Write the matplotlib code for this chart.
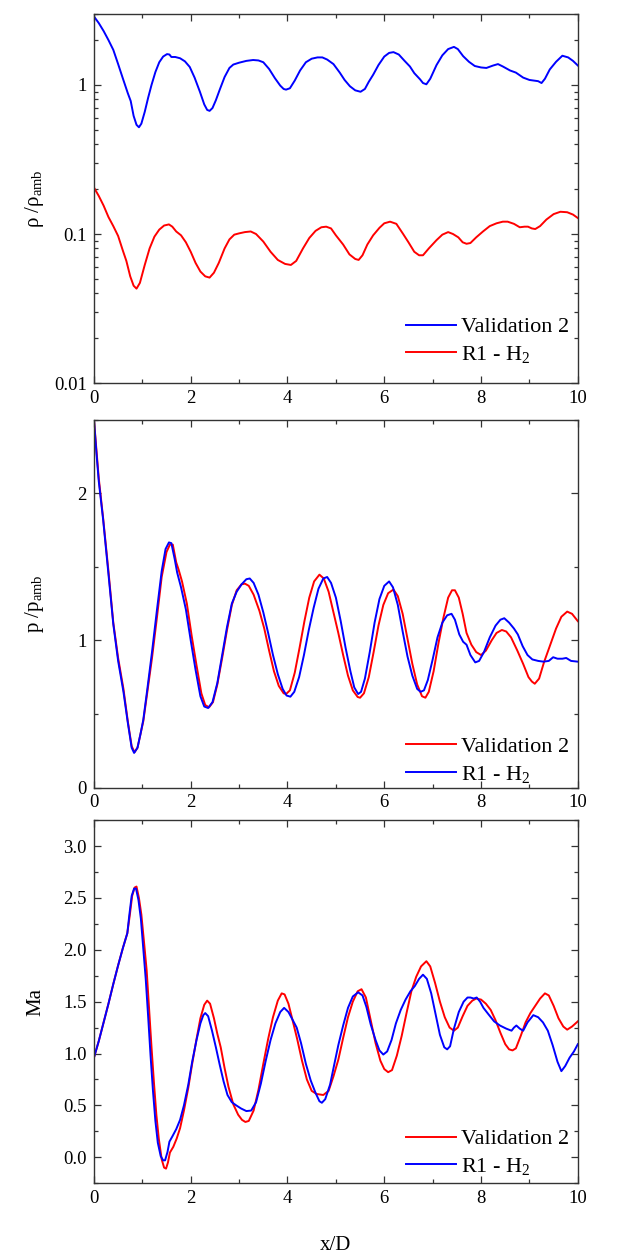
import numpy as np
import matplotlib
matplotlib.use("Agg")
import matplotlib.pyplot as plt
from matplotlib.ticker import MultipleLocator, FixedLocator, FixedFormatter, LogLocator, NullFormatter

plt.rcParams['font.family'] = ['Liberation Serif', 'DejaVu Serif']
plt.rcParams['mathtext.fontset'] = 'custom'
plt.rcParams['mathtext.rm'] = 'Liberation Serif'
plt.rcParams['mathtext.it'] = 'Liberation Serif:italic'

# ---- density ratio (log axis) ----
rho_val_x = [0.0, 0.1, 0.2, 0.3, 0.4, 0.5, 0.6, 0.7, 0.76, 0.82, 0.88, 0.93, 0.98, 1.05, 1.12, 1.19,
             1.27, 1.35, 1.43, 1.51, 1.56, 1.60, 1.68, 1.78, 1.88, 1.98, 2.08, 2.19, 2.28, 2.34, 2.39,
             2.45, 2.52, 2.60, 2.70, 2.80, 2.88, 3.0, 3.15, 3.29, 3.40, 3.50, 3.62, 3.74, 3.85, 3.92,
             3.97, 4.05, 4.15, 4.26, 4.38, 4.50, 4.62, 4.72, 4.82, 4.95, 5.08, 5.18, 5.29, 5.40, 5.51,
             5.60, 5.68, 5.77, 5.88, 6.0, 6.10, 6.19, 6.30, 6.42, 6.53, 6.62, 6.74, 6.80, 6.87, 6.95,
             7.08, 7.20, 7.32, 7.44, 7.52, 7.63, 7.75, 7.87, 8.0, 8.11, 8.25, 8.35, 8.45, 8.60, 8.72,
             8.87, 9.0, 9.18, 9.25, 9.32, 9.42, 9.55, 9.68, 9.80, 9.90, 10.0]
rho_val_y = [2.88, 2.6, 2.3, 2.0, 1.72, 1.38, 1.1, 0.88, 0.78, 0.62, 0.54, 0.52, 0.55, 0.66, 0.82, 1.0,
             1.22, 1.42, 1.55, 1.61, 1.60, 1.54, 1.54, 1.51, 1.44, 1.32, 1.12, 0.90, 0.74, 0.68, 0.67,
             0.70, 0.79, 0.93, 1.13, 1.30, 1.37, 1.41, 1.45, 1.47, 1.46, 1.42, 1.28, 1.11, 0.99, 0.94,
             0.93, 0.95, 1.07, 1.25, 1.42, 1.50, 1.53, 1.53, 1.48, 1.38, 1.21, 1.08, 0.98, 0.92, 0.90,
             0.94, 1.05, 1.17, 1.36, 1.55, 1.64, 1.66, 1.60, 1.45, 1.33, 1.20, 1.09, 1.03, 1.01, 1.10,
             1.36, 1.58, 1.74, 1.80, 1.74, 1.56, 1.43, 1.34, 1.31, 1.30, 1.35, 1.38, 1.33, 1.25, 1.21,
             1.12, 1.08, 1.06, 1.03, 1.10, 1.27, 1.43, 1.57, 1.53, 1.45, 1.35]

rho_h2_x = [0.0, 0.1, 0.2, 0.3, 0.4, 0.5, 0.6, 0.67, 0.75, 0.82, 0.88, 0.95, 1.05, 1.15, 1.25, 1.35,
            1.45, 1.55, 1.62, 1.70, 1.80, 1.90, 2.0, 2.10, 2.20, 2.30, 2.39, 2.48, 2.58, 2.70, 2.80,
            2.90, 3.0, 3.12, 3.24, 3.35, 3.50, 3.65, 3.80, 3.95, 4.07, 4.18, 4.32, 4.45, 4.58, 4.70,
            4.80, 4.90, 5.0, 5.15, 5.28, 5.40, 5.47, 5.55, 5.65, 5.77, 5.90, 6.0, 6.12, 6.25, 6.39,
            6.50, 6.62, 6.72, 6.80, 6.92, 7.08, 7.20, 7.32, 7.42, 7.53, 7.62, 7.70, 7.78, 7.90, 8.04,
            8.18, 8.32, 8.45, 8.55, 8.68, 8.80, 8.90, 8.97, 9.05, 9.12, 9.22, 9.35, 9.50, 9.64, 9.78,
            9.90, 10.0]
rho_h2_y = [0.205, 0.18, 0.155, 0.13, 0.113, 0.097, 0.077, 0.066, 0.052, 0.045, 0.043, 0.047, 0.062,
            0.080, 0.096, 0.107, 0.114, 0.116, 0.112, 0.104, 0.098, 0.088, 0.076, 0.064, 0.056, 0.052,
            0.051, 0.055, 0.064, 0.080, 0.092, 0.099, 0.101, 0.103, 0.104, 0.100, 0.089, 0.076, 0.067,
            0.063, 0.062, 0.066, 0.080, 0.094, 0.105, 0.111, 0.112, 0.109, 0.098, 0.085, 0.073, 0.068,
            0.067, 0.072, 0.085, 0.098, 0.110, 0.118, 0.121, 0.117, 0.100, 0.088, 0.076, 0.072, 0.072,
            0.080, 0.091, 0.099, 0.103, 0.100, 0.095, 0.088, 0.086, 0.087, 0.095, 0.104, 0.113, 0.118,
            0.121, 0.121, 0.117, 0.111, 0.112, 0.112, 0.109, 0.108, 0.113, 0.125, 0.136, 0.141, 0.140,
            0.135, 0.128]

# ---- pressure ratio ----
p_val_x = [0.0, 0.05, 0.1, 0.19, 0.3, 0.40, 0.50, 0.61, 0.70, 0.78, 0.84, 0.90, 0.96, 1.02, 1.10,
           1.20, 1.30, 1.40, 1.50, 1.57, 1.63, 1.70, 1.75, 1.82, 1.92, 2.02, 2.12, 2.22, 2.30, 2.38,
           2.46, 2.55, 2.65, 2.75, 2.85, 2.95, 3.05, 3.12, 3.20, 3.30, 3.42, 3.52, 3.62, 3.72, 3.82,
           3.92, 3.97, 4.05, 4.15, 4.25, 4.35, 4.45, 4.55, 4.66, 4.75, 4.85, 4.95, 5.05, 5.15, 5.25,
           5.35, 5.45, 5.50, 5.58, 5.68, 5.78, 5.88, 5.98, 6.08, 6.19, 6.28, 6.38, 6.48, 6.58, 6.68,
           6.78, 6.85, 6.92, 7.02, 7.12, 7.22, 7.32, 7.40, 7.46, 7.54, 7.62, 7.70, 7.80, 7.90, 8.00,
           8.10, 8.22, 8.32, 8.43, 8.52, 8.62, 8.75, 8.87, 8.98, 9.05, 9.11, 9.20, 9.30, 9.42, 9.55,
           9.66, 9.78, 9.88, 10.0]
p_val_y = [2.50, 2.30, 2.10, 1.83, 1.47, 1.12, 0.88, 0.67, 0.45, 0.28, 0.24, 0.27, 0.36, 0.45, 0.64,
           0.88, 1.15, 1.43, 1.60, 1.65, 1.65, 1.53, 1.48, 1.40, 1.25, 1.03, 0.83, 0.64, 0.56, 0.545,
           0.58, 0.70, 0.88, 1.07, 1.24, 1.34, 1.38, 1.385, 1.37, 1.31, 1.20, 1.08, 0.93, 0.79, 0.69,
           0.64, 0.635, 0.66, 0.78, 0.95, 1.13, 1.29, 1.40, 1.446, 1.42, 1.33, 1.19, 1.05, 0.90, 0.76,
           0.66, 0.615, 0.61, 0.64, 0.75, 0.92, 1.10, 1.24, 1.32, 1.345, 1.30, 1.18, 1.01, 0.84, 0.70,
           0.62, 0.61, 0.65, 0.79, 0.98, 1.15, 1.29, 1.34, 1.34, 1.29, 1.18, 1.05, 0.97, 0.92, 0.90,
           0.93, 1.00, 1.05, 1.07, 1.06, 1.02, 0.93, 0.84, 0.75, 0.72, 0.705, 0.74, 0.85, 0.96, 1.08,
           1.16, 1.195, 1.18, 1.13]

p_h2_x = [0.0, 0.05, 0.1, 0.19, 0.3, 0.40, 0.50, 0.61, 0.70, 0.78, 0.83, 0.90, 0.96, 1.02, 1.10, 1.20,
          1.30, 1.40, 1.48, 1.55, 1.60, 1.67, 1.72, 1.80, 1.90, 2.00, 2.10, 2.20, 2.28, 2.36, 2.45,
          2.55, 2.65, 2.75, 2.85, 2.95, 3.05, 3.15, 3.22, 3.30, 3.40, 3.50, 3.60, 3.70, 3.80, 3.90,
          3.98, 4.06, 4.14, 4.24, 4.34, 4.44, 4.54, 4.64, 4.74, 4.82, 4.90, 5.00, 5.10, 5.20, 5.30,
          5.38, 5.46, 5.52, 5.60, 5.70, 5.80, 5.90, 6.00, 6.10, 6.18, 6.28, 6.38, 6.48, 6.58, 6.68,
          6.75, 6.82, 6.90, 7.00, 7.10, 7.20, 7.30, 7.39, 7.46, 7.55, 7.63, 7.70, 7.78, 7.88, 7.96,
          8.06, 8.18, 8.30, 8.40, 8.48, 8.58, 8.68, 8.76, 8.86, 8.96, 9.06, 9.18, 9.29, 9.40, 9.49,
          9.58, 9.68, 9.76, 9.86, 10.0]
p_h2_y = [2.50, 2.28, 2.08, 1.82, 1.45, 1.11, 0.86, 0.65, 0.44, 0.27, 0.235, 0.27, 0.36, 0.46, 0.66,
          0.92, 1.20, 1.47, 1.62, 1.665, 1.66, 1.55, 1.46, 1.36, 1.21, 1.00, 0.80, 0.62, 0.55, 0.54,
          0.58, 0.71, 0.90, 1.09, 1.25, 1.33, 1.38, 1.415, 1.42, 1.39, 1.31, 1.19, 1.05, 0.90, 0.77,
          0.67, 0.625, 0.617, 0.65, 0.75, 0.90, 1.07, 1.22, 1.35, 1.42, 1.43, 1.39, 1.29, 1.13, 0.95,
          0.79, 0.68, 0.635, 0.65, 0.74, 0.92, 1.12, 1.28, 1.37, 1.40, 1.36, 1.24, 1.06, 0.89, 0.76,
          0.67, 0.65, 0.66, 0.73, 0.87, 1.02, 1.12, 1.17, 1.18, 1.14, 1.04, 0.99, 0.97, 0.90, 0.85,
          0.86, 0.92, 1.02, 1.10, 1.14, 1.15, 1.12, 1.08, 1.04, 0.96, 0.90, 0.87, 0.86, 0.855, 0.86,
          0.885, 0.875, 0.875, 0.88, 0.86, 0.855]

# ---- Mach number ----
ma_val_x = [0.0, 0.1, 0.2, 0.3, 0.4, 0.5, 0.6, 0.69, 0.74, 0.79, 0.84, 0.88, 0.93, 0.98, 1.04, 1.09,
            1.14, 1.19, 1.24, 1.29, 1.34, 1.40, 1.45, 1.49, 1.53, 1.57, 1.64, 1.71, 1.78, 1.86, 1.95,
            2.03, 2.12, 2.20, 2.28, 2.34, 2.40, 2.48, 2.55, 2.62, 2.70, 2.78, 2.88, 2.98, 3.06, 3.13,
            3.20, 3.30, 3.40, 3.50, 3.60, 3.70, 3.80, 3.88, 3.94, 4.02, 4.10, 4.20, 4.30, 4.40, 4.50,
            4.60, 4.74, 4.85, 4.95, 5.05, 5.15, 5.25, 5.35, 5.45, 5.53, 5.62, 5.72, 5.82, 5.92, 6.00,
            6.08, 6.16, 6.26, 6.36, 6.46, 6.56, 6.66, 6.76, 6.87, 6.95, 7.05, 7.15, 7.25, 7.35, 7.44,
            7.52, 7.62, 7.72, 7.82, 7.90, 8.00, 8.10, 8.20, 8.30, 8.40, 8.50, 8.58, 8.65, 8.72, 8.82,
            8.92, 9.02, 9.12, 9.22, 9.32, 9.40, 9.50, 9.60, 9.70, 9.78, 9.88, 10.0]
ma_val_y = [0.96, 1.12, 1.30, 1.48, 1.67, 1.85, 2.02, 2.16, 2.33, 2.52, 2.60, 2.61, 2.50, 2.34, 2.05,
            1.80, 1.43, 1.06, 0.72, 0.41, 0.18, -0.02, -0.10, -0.11, -0.05, 0.045, 0.10, 0.18, 0.28,
            0.45, 0.67, 0.90, 1.14, 1.34, 1.47, 1.51, 1.48, 1.34, 1.19, 1.06, 0.86, 0.68, 0.51, 0.41,
            0.36, 0.34, 0.35, 0.45, 0.65, 0.90, 1.14, 1.35, 1.51, 1.58, 1.57, 1.48, 1.33, 1.14, 0.93,
            0.75, 0.64, 0.61, 0.60, 0.64, 0.78, 0.94, 1.15, 1.35, 1.50, 1.60, 1.62, 1.54, 1.32, 1.10,
            0.93, 0.85, 0.82, 0.84, 0.98, 1.17, 1.39, 1.60, 1.74, 1.84, 1.89, 1.84, 1.68, 1.50, 1.35,
            1.25, 1.22, 1.25, 1.36, 1.46, 1.51, 1.53, 1.52, 1.48, 1.42, 1.32, 1.20, 1.09, 1.04, 1.03,
            1.05, 1.17, 1.30, 1.39, 1.46, 1.53, 1.58, 1.56, 1.46, 1.34, 1.26, 1.23, 1.26, 1.31]

ma_h2_x = [0.0, 0.1, 0.2, 0.3, 0.4, 0.5, 0.6, 0.69, 0.73, 0.78, 0.83, 0.87, 0.92, 0.97, 1.02, 1.07,
           1.12, 1.17, 1.22, 1.27, 1.32, 1.38, 1.43, 1.47, 1.52, 1.56, 1.62, 1.70, 1.78, 1.86, 1.95,
           2.03, 2.12, 2.20, 2.26, 2.30, 2.36, 2.44, 2.52, 2.60, 2.68, 2.76, 2.85, 2.94, 3.04, 3.15,
           3.25, 3.35, 3.45, 3.55, 3.65, 3.75, 3.85, 3.93, 4.02, 4.10, 4.19, 4.28, 4.38, 4.48, 4.58,
           4.66, 4.71, 4.78, 4.88, 4.96, 5.05, 5.15, 5.25, 5.35, 5.46, 5.55, 5.63, 5.72, 5.82, 5.90,
           5.98, 6.06, 6.15, 6.24, 6.34, 6.44, 6.54, 6.63, 6.72, 6.80, 6.88, 6.97, 7.06, 7.15, 7.24,
           7.30, 7.36, 7.44, 7.54, 7.64, 7.72, 7.78, 7.85, 7.91, 7.98, 8.05, 8.15, 8.27, 8.39, 8.52,
           8.63, 8.68, 8.73, 8.80, 8.87, 8.96, 9.08, 9.18, 9.28, 9.38, 9.48, 9.58, 9.66, 9.74, 9.83,
           9.92, 10.0]
ma_h2_y = [0.96, 1.12, 1.30, 1.48, 1.67, 1.85, 2.02, 2.16, 2.33, 2.52, 2.59, 2.59, 2.48, 2.30, 2.01,
           1.72, 1.36, 0.98, 0.64, 0.35, 0.14, 0.01, -0.03, -0.03, 0.05, 0.15, 0.20, 0.27, 0.36, 0.50,
           0.70, 0.92, 1.13, 1.29, 1.37, 1.39, 1.36, 1.22, 1.06, 0.89, 0.73, 0.60, 0.53, 0.50, 0.47,
           0.445, 0.45, 0.53, 0.71, 0.93, 1.13, 1.29, 1.40, 1.44, 1.40, 1.33, 1.25, 1.10, 0.90, 0.74,
           0.62, 0.54, 0.525, 0.56, 0.70, 0.88, 1.08, 1.27, 1.44, 1.55, 1.59, 1.56, 1.45, 1.28, 1.13,
           1.03, 0.99, 1.02, 1.13, 1.29, 1.42, 1.52, 1.60, 1.65, 1.72, 1.76, 1.72, 1.58, 1.38, 1.18,
           1.06, 1.04, 1.07, 1.24, 1.40, 1.50, 1.54, 1.54, 1.53, 1.54, 1.50, 1.44, 1.38, 1.31, 1.27,
           1.24, 1.22, 1.25, 1.27, 1.24, 1.22, 1.30, 1.37, 1.35, 1.30, 1.22, 1.08, 0.92, 0.83, 0.88,
           0.96, 1.02, 1.09]

blue = '#0000FF'
red = '#FF0000'
lw = 1.4

fig = plt.figure(figsize=(6.18, 12.56), dpi=100)
ax1 = fig.add_axes([0.152, 0.695, 0.783, 0.294])
ax2 = fig.add_axes([0.152, 0.373, 0.783, 0.293])
ax3 = fig.add_axes([0.152, 0.058, 0.783, 0.289])

# top: density
ax1.plot(rho_val_x, rho_val_y, color=blue, lw=lw, label='Validation 2')
ax1.plot(rho_h2_x, rho_h2_y, color=red, lw=lw, label='R1 - H$_2$')
ax1.set_yscale('log')
ax1.set_ylim(0.01, 3)
ax1.yaxis.set_major_locator(FixedLocator([0.01, 0.1, 1]))
ax1.yaxis.set_major_formatter(FixedFormatter(['0.01', '0.1', '1']))
ax1.yaxis.set_minor_locator(LogLocator(base=10, subs=np.arange(2, 10), numticks=20))
ax1.yaxis.set_minor_formatter(NullFormatter())
ax1.set_ylabel('ρ /ρ$_{\\mathrm{amb}}$', fontsize=15)

# middle: pressure
ax2.plot(p_val_x, p_val_y, color=red, lw=lw, label='Validation 2')
ax2.plot(p_h2_x, p_h2_y, color=blue, lw=lw, label='R1 - H$_2$')
ax2.set_ylim(0, 2.5)
ax2.yaxis.set_major_locator(MultipleLocator(1))
ax2.yaxis.set_minor_locator(MultipleLocator(0.5))
ax2.set_ylabel('p /p$_{\\mathrm{amb}}$', fontsize=15)

# bottom: Mach
ax3.plot(ma_val_x, ma_val_y, color=red, lw=lw, label='Validation 2')
ax3.plot(ma_h2_x, ma_h2_y, color=blue, lw=lw, label='R1 - H$_2$')
ax3.set_ylim(-0.25, 3.25)
ax3.yaxis.set_major_locator(MultipleLocator(0.5))
ax3.yaxis.set_minor_locator(MultipleLocator(0.25))
ax3.yaxis.set_major_formatter(plt.FormatStrFormatter('%.1f'))
ax3.set_ylabel('Ma', fontsize=15)
ax3.set_xlabel('x/D', fontsize=15, labelpad=21)

# lower-right corner of each legend, in axes fraction
leg_anchor = {ax1: (0.983, 0.049), ax2: (0.983, 0.008), ax3: (0.983, 0.017)}

for ax in (ax1, ax2, ax3):
    ax.set_xlim(0, 10)
    ax.xaxis.set_major_locator(MultipleLocator(2))
    ax.xaxis.set_minor_locator(MultipleLocator(1))
    ax.tick_params(which='both', direction='in', top=True, right=True, width=0.9, color='#333333')
    ax.tick_params(which='major', length=5, labelsize=13.5, pad=5)
    ax.tick_params(which='minor', length=3)
    for s in ax.spines.values():
        s.set_linewidth(1.0)
        s.set_color('#333333')
    ax.yaxis.set_label_coords(-0.10, 0.5)
    ax.legend(loc='lower right', bbox_to_anchor=leg_anchor[ax], frameon=False, fontsize=16,
              handlelength=2.25, handletextpad=0.25, labelspacing=0.3, borderpad=0, borderaxespad=0)

fig.savefig('out.png', dpi=100)
